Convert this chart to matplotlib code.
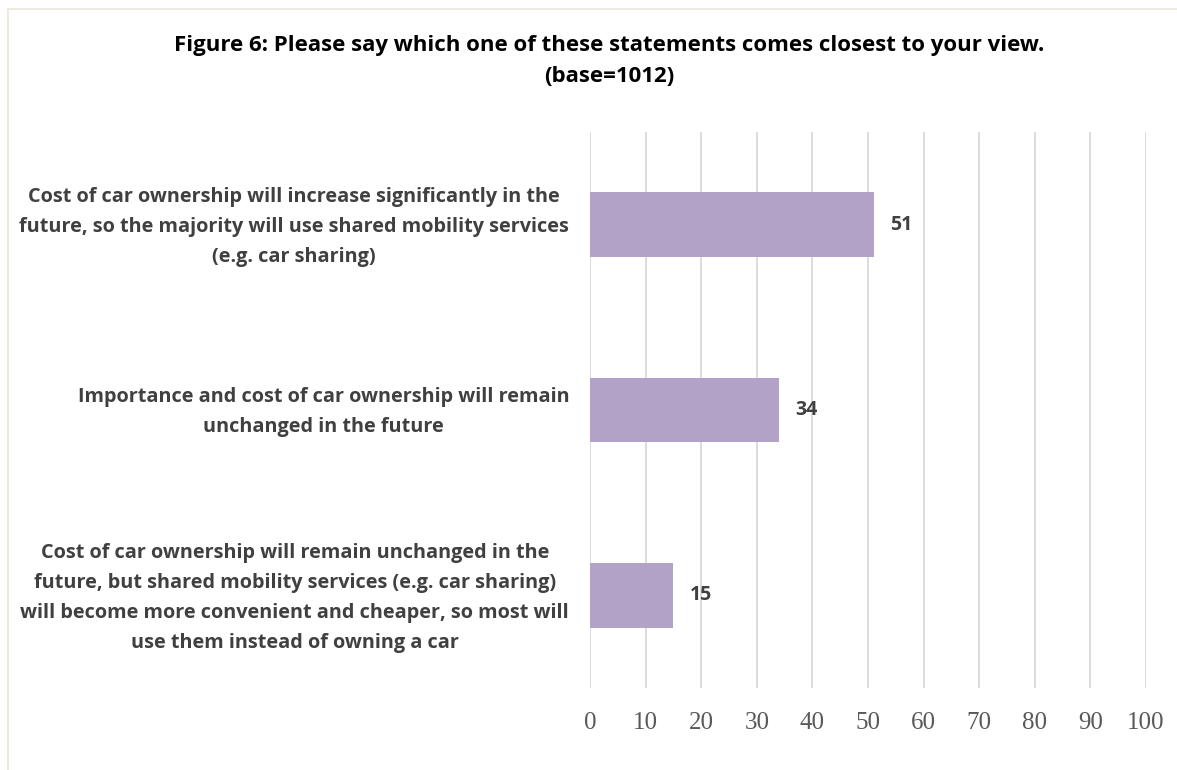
import matplotlib.pyplot as plt
from matplotlib.lines import Line2D
from matplotlib.transforms import ScaledTranslation

# Survey answers (percent of respondents)
statements = [
    "Cost of car ownership will increase significantly in the\n"
    "future, so the majority will use shared mobility services\n"
    "(e.g. car sharing)",
    "Importance and cost of car ownership will remain\n"
    "unchanged in the future",
    "Cost of car ownership will remain unchanged in the\n"
    "future, but shared mobility services (e.g. car sharing)\n"
    "will become more convenient and cheaper, so most will\n"
    "use them instead of owning a car",
]
shares = [51, 34, 15]
x_ticks = [0, 10, 20, 30, 40, 50, 60, 70, 80, 90, 100]

bar_color = "#B3A2C7"
text_color = "#404040"
label_font = "Open Sans"

fig = plt.figure(figsize=(11.77, 7.7), dpi=100)
W, H = 1177, 770
ax = fig.add_axes([590 / W, 1 - 688 / H, 556 / W, 556 / H])

ypos = list(range(len(statements)))
ax.barh(ypos, shares, height=0.35, color=bar_color, zorder=3)
ax.set_ylim(len(statements) - 0.5, -0.5)
ax.set_xlim(0, 100)

for y, v in zip(ypos, shares):
    ax.text(v + 2.9, y, str(v), ha="left", va="center", fontsize=14,
            fontweight="bold", color=text_color, family=label_font)

ax.set_xticks(x_ticks)
ax.set_xticklabels([str(t) for t in x_ticks], family="Liberation Serif",
                   fontsize=18, color="#595959")
ax.tick_params(axis="x", length=0, pad=17)
ax.set_yticks(ypos)
ax.set_yticklabels(statements, family=label_font, fontsize=14.3,
                   fontweight="bold", color=text_color, linespacing=1.66,
                   multialignment="center")
ax.tick_params(axis="y", length=0, pad=15)
# nudge the category labels up a little so they sit centred on the bars
nudge = ScaledTranslation(0, 0.05, fig.dpi_scale_trans)
for lbl in ax.get_yticklabels():
    lbl.set_transform(lbl.get_transform() + nudge)
ax.grid(axis="x", color="#D9D9D9", linewidth=1.3, zorder=0)
for s in ax.spines.values():
    s.set_visible(False)

fig.text(609 / W, 1 - 61 / H,
         "Figure 6: Please say which one of these statements comes closest to your view.\n(base=1012)",
         ha="center", va="center", fontsize=16, fontweight="bold",
         family=label_font, color="black", linespacing=1.58)

# thin frame along the top and left edges
fig.add_artist(Line2D([8 / W, 1], [1 - 9 / H, 1 - 9 / H], color="#EEEAE0", linewidth=1.5))
fig.add_artist(Line2D([8 / W, 8 / W], [0, 1 - 9 / H], color="#EEEAE0", linewidth=1.5))

fig.savefig("out.png", dpi=100)
